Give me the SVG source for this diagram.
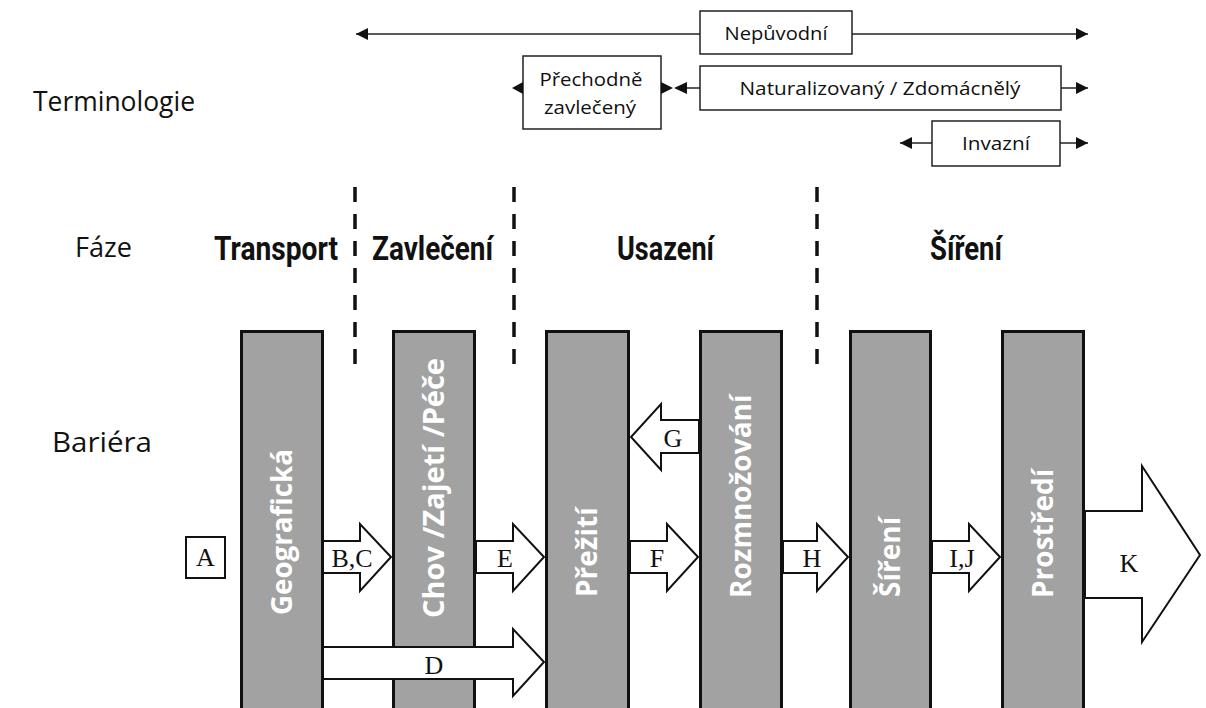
<svg xmlns="http://www.w3.org/2000/svg" width="1206" height="708" viewBox="0 0 1206 708">
<defs>
<marker id="ah" viewBox="0 0 12 12" refX="12" refY="6" markerWidth="12" markerHeight="12" markerUnits="userSpaceOnUse" orient="auto">
<path d="M0,0 L12,6 L0,12 z" fill="#111"/>
</marker>
</defs>
<style>
.lbl{font-family:"Open Sans","Noto Sans",sans-serif;font-size:27px;fill:#111}
.phase{font-family:Roboto,"DejaVu Sans",sans-serif;font-weight:700;font-size:34px;fill:#111}
.term{font-family:"Open Sans","Noto Sans",sans-serif;font-size:19px;fill:#111;text-anchor:middle}
.tbox{fill:#fff;stroke:#222;stroke-width:1.5}
.tline{stroke:#222;stroke-width:1.5;fill:none}
.tri{fill:#111}
.dash{stroke:#111;stroke-width:3.5;stroke-dasharray:15 12;fill:none}
.bar{fill:#a2a2a2;stroke:#111;stroke-width:3}
.bartxt{font-family:"Open Sans","Noto Sans",sans-serif;font-weight:700;font-size:28px;fill:#fff}
.arr{fill:#fff;stroke:#111;stroke-width:2;stroke-linejoin:miter}
.let{font-family:"Liberation Serif","DejaVu Serif",serif;font-size:26px;fill:#111;text-anchor:middle}
</style>

<g id="row-labels">
<text class="lbl" x="33" y="111" textLength="162" lengthAdjust="spacingAndGlyphs">Terminologie</text>
<text class="lbl" x="75" y="257" textLength="57" lengthAdjust="spacingAndGlyphs">Fáze</text>
<text class="lbl" x="52" y="452" textLength="100" lengthAdjust="spacingAndGlyphs">Bariéra</text>
</g>

<g id="terminology">
<g id="t-nepuvodni">
<line class="tline" x1="700" y1="34" x2="356" y2="34" marker-end="url(#ah)"/>
<line class="tline" x1="852" y1="34" x2="1088" y2="34" marker-end="url(#ah)"/>
<rect class="tbox" x="700" y="11" width="152" height="43"/>
<text class="term" x="776" y="40" textLength="103" lengthAdjust="spacingAndGlyphs">Nepůvodní</text>
</g>
<g id="t-prechodne">
<rect class="tbox" x="523" y="56" width="138" height="73"/>
<polygon class="tri" points="523,82 512,88 523,94"/>
<polygon class="tri" points="661,82 673,88 661,94"/>
<text class="term" x="591" y="86" textLength="103" lengthAdjust="spacingAndGlyphs">Přechodně</text>
<text class="term" x="590" y="114" textLength="92" lengthAdjust="spacingAndGlyphs">zavlečený</text>
</g>
<g id="t-naturalizovany">
<polygon class="tri" points="687,82 674,88 687,94"/>
<line class="tline" x1="687" y1="88" x2="700" y2="88"/>
<line class="tline" x1="1061" y1="88" x2="1088" y2="88" marker-end="url(#ah)"/>
<rect class="tbox" x="700" y="66" width="361" height="44"/>
<text class="term" x="880" y="95" textLength="281" lengthAdjust="spacingAndGlyphs">Naturalizovaný / Zdomácnělý</text>
</g>
<g id="t-invazni">
<line class="tline" x1="932" y1="143" x2="900" y2="143" marker-end="url(#ah)"/>
<line class="tline" x1="1060" y1="143" x2="1088" y2="143" marker-end="url(#ah)"/>
<rect class="tbox" x="932" y="121" width="128" height="45"/>
<text class="term" x="996" y="150" textLength="68" lengthAdjust="spacingAndGlyphs">Invazní</text>
</g>
</g>

<g id="phases">
<text class="phase" x="214" y="260" textLength="124" lengthAdjust="spacingAndGlyphs">Transport</text>
<text class="phase" x="372" y="260" textLength="121" lengthAdjust="spacingAndGlyphs">Zavlečení</text>
<text class="phase" x="617" y="260" textLength="97" lengthAdjust="spacingAndGlyphs">Usazení</text>
<text class="phase" x="930" y="260" textLength="72" lengthAdjust="spacingAndGlyphs">Šíření</text>
</g>

<g id="dividers">
<line class="dash" x1="355" y1="187" x2="355" y2="364"/>
<line class="dash" x1="514" y1="187" x2="514" y2="364"/>
<line class="dash" x1="817" y1="187" x2="817" y2="364"/>
</g>

<g id="bar-geograficka">
<rect class="bar" x="241.5" y="331.5" width="81" height="390"/>
<text class="bartxt" transform="translate(292,615) rotate(-90)" textLength="166" lengthAdjust="spacingAndGlyphs">Geografická</text>
</g>
<g id="bar-chov">
<rect class="bar" x="393.5" y="331.5" width="81" height="390"/>
<text class="bartxt" transform="translate(444,618) rotate(-90)" textLength="260" lengthAdjust="spacingAndGlyphs">Chov /Zajetí /Péče</text>
</g>
<g id="bar-preziti">
<rect class="bar" x="546.5" y="331.5" width="82" height="390"/>
<text class="bartxt" transform="translate(597,597) rotate(-90)">Přežití</text>
</g>
<g id="bar-rozmnozovani">
<rect class="bar" x="700.5" y="331.5" width="81" height="390"/>
<text class="bartxt" transform="translate(751,598) rotate(-90)">Rozmnožování</text>
</g>
<g id="bar-sireni">
<rect class="bar" x="850.5" y="331.5" width="80" height="390"/>
<text class="bartxt" transform="translate(900,597) rotate(-90)">Šíření</text>
</g>
<g id="bar-prostredi">
<rect class="bar" x="1002.5" y="331.5" width="81" height="390"/>
<text class="bartxt" transform="translate(1053,598) rotate(-90)">Prostředí</text>
</g>

<g id="node-A">
<rect x="186" y="537" width="39" height="41" fill="#fff" stroke="#111" stroke-width="2"/>
<text class="let" x="205.5" y="566">A</text>
</g>

<g id="connectors">
<polygon class="arr" points="323,541 360,541 360,524 391,557 360,591 360,573 323,573"/>
<polygon class="arr" points="476,541 513,541 513,524 544,557 513,591 513,573 476,573"/>
<polygon class="arr" points="630,541 667,541 667,524 698,557 667,591 667,573 630,573"/>
<polygon class="arr" points="783,541 817,541 817,524 848,557 817,591 817,573 783,573"/>
<polygon class="arr" points="932,541 969,541 969,524 1000,557 969,591 969,573 932,573"/>
<polygon class="arr" points="323,647 513,647 513,629 544,662 513,696 513,679 323,679"/>
<polygon class="arr" points="699,420 661,420 661,404 631,437 661,470 661,453 699,453"/>
<polygon class="arr" points="1085,511 1142,511 1142,466 1200,555 1142,642 1142,598 1085,598"/>
<text class="let" x="352" y="567">B,C</text>
<text class="let" x="505" y="567">E</text>
<text class="let" x="657" y="567">F</text>
<text class="let" x="812" y="567">H</text>
<text class="let" x="962" y="567">I,J</text>
<text class="let" x="434" y="674">D</text>
<text class="let" x="673" y="447">G</text>
<text class="let" x="1129" y="572">K</text>
</g>
</svg>
